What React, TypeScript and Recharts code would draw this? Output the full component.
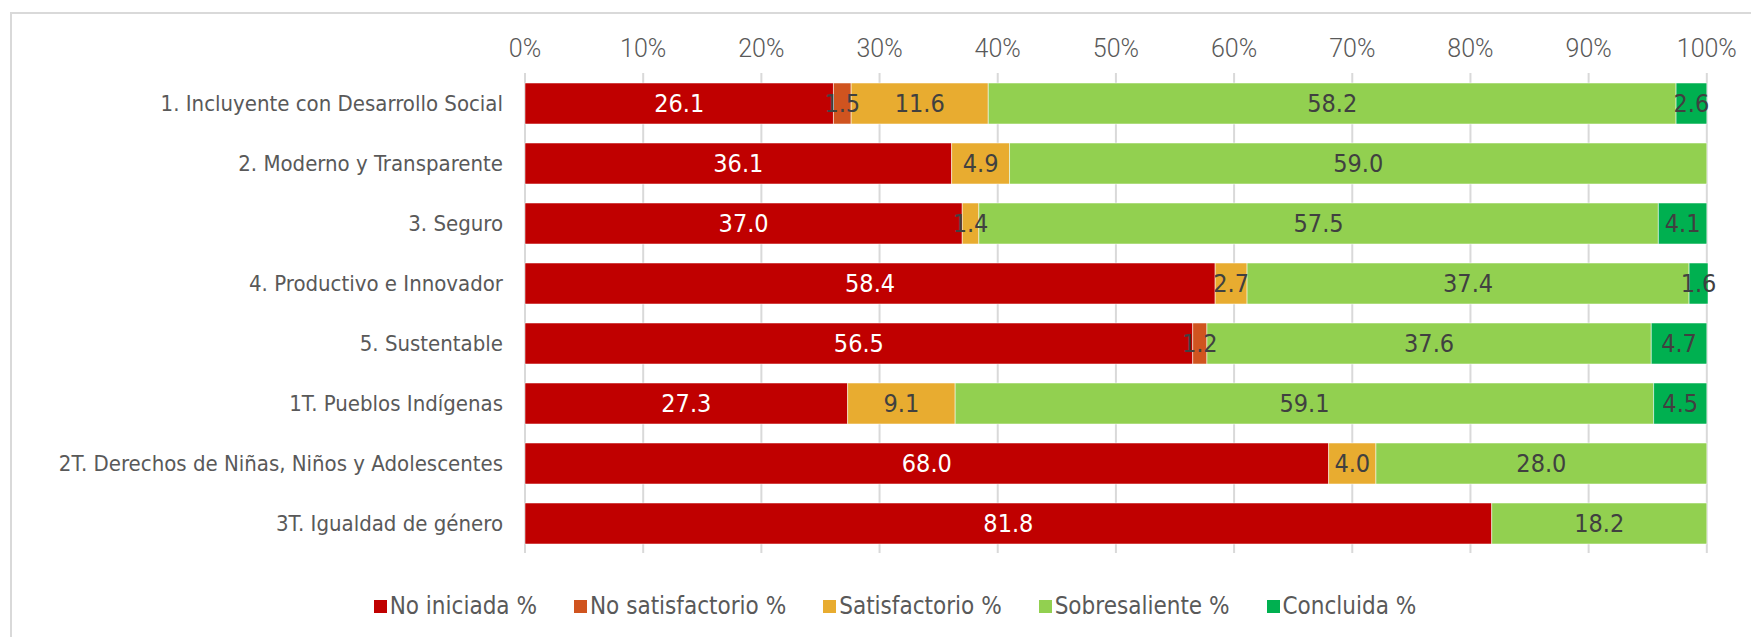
import React from "react";
import {
  BarChart,
  Bar,
  XAxis,
  YAxis,
  CartesianGrid,
  LabelList,
} from "recharts";

const categories = [
  "1. Incluyente con Desarrollo Social",
  "2. Moderno y Transparente",
  "3. Seguro",
  "4. Productivo e Innovador",
  "5. Sustentable",
  "1T. Pueblos Indígenas",
  "2T. Derechos de Niñas, Niños y Adolescentes",
  "3T. Igualdad de género",
];

const noIniciada = [26.1, 36.1, 37.0, 58.4, 56.5, 27.3, 68.0, 81.8];
const noSatisfactorio = [1.5, 0, 0, 0, 1.2, 0, 0, 0];
const satisfactorio = [11.6, 4.9, 1.4, 2.7, 0, 9.1, 4.0, 0];
const sobresaliente = [58.2, 59.0, 57.5, 37.4, 37.6, 59.1, 28.0, 18.2];
const concluida = [2.6, 0, 4.1, 1.6, 4.7, 4.5, 0, 0];

const xTicks = [0, 10, 20, 30, 40, 50, 60, 70, 80, 90, 100];

const series = [
  { key: "noIniciada", name: "No iniciada %", color: "#C00000", text: "#ffffff" },
  { key: "noSatisfactorio", name: "No satisfactorio %", color: "#D0541F", text: "#404040" },
  { key: "satisfactorio", name: "Satisfactorio %", color: "#E8AC30", text: "#404040" },
  { key: "sobresaliente", name: "Sobresaliente %", color: "#92D050", text: "#404040" },
  { key: "concluida", name: "Concluida %", color: "#00B050", text: "#404040" },
];

const data = categories.map((name, i) => ({
  name,
  noIniciada: noIniciada[i],
  noSatisfactorio: noSatisfactorio[i],
  satisfactorio: satisfactorio[i],
  sobresaliente: sobresaliente[i],
  concluida: concluida[i],
}));

const narrow = "'Liberation Sans Narrow', 'DejaVu Sans Condensed', sans-serif";

const makeLabel = (color: string) => (props: any) => {
  const { x, y, width, height, value } = props;
  if (!value) return null;
  return (
    <text
      x={x + width / 2}
      y={y + height / 2}
      fill={color}
      textAnchor="middle"
      dominantBaseline="central"
      fontFamily={narrow}
      fontSize={25}
    >
      {Number(value).toFixed(1)}
    </text>
  );
};

export default function App() {
  return (
    <div
      style={{
        position: "absolute",
        left: 0,
        top: 0,
        width: 1751,
        height: 637,
        overflow: "hidden",
        background: "#fff",
      }}
    >
      <div
        style={{
          position: "absolute",
          left: 10,
          top: 12,
          width: 1800,
          height: 700,
          border: "2px solid #d9d9d9",
        }}
      />
      <div style={{ position: "absolute", left: 0, top: 0 }}>
        <BarChart
          width={1751}
          height={637}
          data={data}
          layout="vertical"
          margin={{ top: 20, right: 43, left: 0, bottom: 84 }}
          barSize={41}
        >
          <CartesianGrid
            horizontal={false}
            stroke="#d9d9d9"
            strokeWidth={2}
            verticalValues={xTicks}
          />
          <XAxis
            type="number"
            orientation="top"
            domain={[0, 100]}
            ticks={xTicks}
            tickFormatter={(v) => `${v}%`}
            axisLine={false}
            tickLine={false}
            tickSize={0}
            tickMargin={16}
            height={53}
            tick={{ fill: "#595959", fontSize: 25, fontFamily: "Roboto", fontWeight: 300 }}
          />
          <YAxis
            type="category"
            dataKey="name"
            width={525}
            axisLine={false}
            tickLine={false}
            tickSize={0}
            tickMargin={22}
            tick={{ fill: "#595959", fontSize: 22, fontFamily: narrow }}
          />
          {series.map((s) => (
            <Bar
              key={s.key}
              dataKey={s.key}
              name={s.name}
              stackId="a"
              fill={s.color}
              stroke="#ffffff"
              strokeOpacity={0.5}
              strokeWidth={1}
              isAnimationActive={false}
            >
              <LabelList dataKey={s.key} content={makeLabel(s.text)} />
            </Bar>
          ))}
        </BarChart>
      </div>
      <div
        style={{
          position: "absolute",
          left: 0,
          width: 1790,
          top: 590,
          height: 32,
          display: "flex",
          justifyContent: "center",
          alignItems: "center",
          gap: 37,
          fontFamily: narrow,
          fontSize: 24,
          color: "#595959",
        }}
      >
        {series.map((s) => (
          <div key={s.key} style={{ display: "flex", alignItems: "center", gap: 3 }}>
            <span style={{ width: 13, height: 13, background: s.color, display: "inline-block" }} />
            <span>{s.name}</span>
          </div>
        ))}
      </div>
    </div>
  );
}
